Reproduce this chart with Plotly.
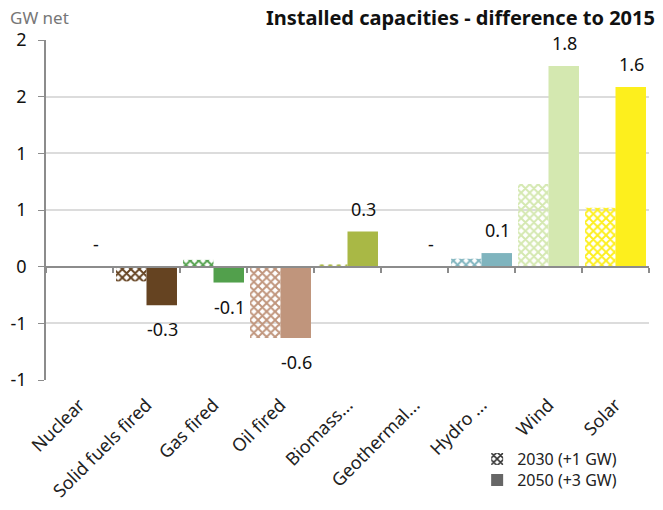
import plotly.graph_objects as go

categories = ["Nuclear", "Solid fuels fired", "Gas fired", "Oil fired", "Biomass...",
              "Geothermal...", "Hydro ...", "Wind", "Solar"]
values_2030 = [None, -0.13, 0.06, -0.63, 0.02, None, 0.07, 0.73, 0.52]
values_2050 = [None, -0.34, -0.14, -0.63, 0.31, None, 0.12, 1.77, 1.585]
label_values = [0, -0.34, -0.14, -0.63, 0.31, 0, 0.12, 1.77, 1.585]
labels_2050 = ["-", "-0.3", "-0.1", "-0.6", "0.3", "-", "0.1", "1.8", "1.6"]
colors = ["#888888", "#654321", "#52a04c", "#c0957c", "#a9b845", "#888888",
          "#7fb4be", "#d4e8b0", "#fdef1d"]
ytick_vals = [-1, -0.5, 0, 0.5, 1, 1.5, 2]
ytick_text = ["-1", "-1", "0", "1", "1", "2", "2"]
legend_names = ["2030 (+1 GW)", "2050 (+3 GW)"]

FONT = "Noto Sans"
PATTERN = dict(shape="x", size=6, solidity=0.55, fillmode="replace", bgcolor="white")

fig = go.Figure()

fig.add_trace(go.Bar(
    x=categories, y=values_2030, name=legend_names[0], showlegend=False,
    offsetgroup="a",
    marker=dict(color=colors, line=dict(width=0), pattern=dict(PATTERN, fgcolor=colors)),
))
fig.add_trace(go.Bar(
    x=categories, y=values_2050, name=legend_names[1], showlegend=False,
    offsetgroup="b",
    marker=dict(color=colors, line=dict(width=0)),
))
# legend entries (two single-item legends for tight spacing)
fig.add_trace(go.Bar(
    x=[None], y=[None], name=legend_names[0], offsetgroup="a", legend="legend",
    marker=dict(color="#333333", line=dict(width=0),
                pattern=dict(PATTERN, fgcolor="#333333")),
))
fig.add_trace(go.Bar(
    x=[None], y=[None], name=legend_names[1], offsetgroup="b", legend="legend2",
    marker=dict(color="#666666", line=dict(width=0)),
))
# helper trace for the zero-line axis with boundary ticks
fig.add_trace(go.Scatter(x=categories, y=[0] * len(categories), mode="none",
                         xaxis="x2", showlegend=False, hoverinfo="skip"))

for cat, v, t in zip(categories, label_values, labels_2050):
    fig.add_annotation(x=cat, y=v, text=t, showarrow=False, xshift=16,
                       yshift=23 if v >= 0 else -24,
                       font=dict(family=FONT, size=18, color="#111111"))

fig.add_annotation(x=0, xref="paper", xanchor="left", xshift=-38,
                   y=1, yref="paper", yanchor="middle", yshift=23,
                   text="GW net", showarrow=False,
                   font=dict(family=FONT, size=17, color="#777777"))

fig.add_annotation(x=0, xref="paper", xanchor="left", xshift=218,
                   y=1, yref="paper", yanchor="middle", yshift=23,
                   text="<b>Installed capacities - difference to 2015</b>",
                   showarrow=False,
                   font=dict(family=FONT, size=20, color="#111111"))

legend_style = dict(x=0.715, xanchor="left", yanchor="middle",
                    font=dict(family=FONT, size=16, color="#222222"),
                    tracegroupgap=0, itemwidth=30, bgcolor="rgba(0,0,0,0)")

fig.update_layout(
    width=663, height=510,
    margin=dict(l=46, r=14, t=40, b=130),
    paper_bgcolor="white", plot_bgcolor="white",
    barmode="group", bargap=0.09, bargroupgap=0,
    font=dict(family=FONT, size=16, color="#111111"),
    xaxis=dict(type="category", categoryorder="array", categoryarray=categories,
               range=[-0.5, 8.5], showline=False, showgrid=False, ticks="",
               automargin=False, ticklabelstandoff=10,
               tickangle=-45, tickfont=dict(family=FONT, size=18, color="#222222")),
    xaxis2=dict(type="category", categoryorder="array", categoryarray=categories,
                range=[-0.5, 8.5], overlaying="x", anchor="free", position=1/3,
                showline=True, linecolor="#8c8c8c", linewidth=2, automargin=False,
                ticks="outside", ticklen=5, tickwidth=1.5, tickcolor="#8c8c8c",
                tickson="boundaries", showticklabels=False, showgrid=False),
    yaxis=dict(range=[-1, 2], tickvals=ytick_vals, ticktext=ytick_text,
               showgrid=True, gridcolor="#dcdcdc", gridwidth=1.5, automargin=False,
               zeroline=False, showline=True, linecolor="#8c8c8c", linewidth=1.5,
               ticks="outside", ticklen=6, tickcolor="#8c8c8c", ticklabelstandoff=8,
               tickfont=dict(family=FONT, size=18, color="#111111")),
    legend=dict(legend_style, y=(380 - 459) / 340),
    legend2=dict(legend_style, y=(380 - 480) / 340),
)

fig.write_html("out.html", config={"displayModeBar": False},
               post_script="document.body.style.margin='0';")
